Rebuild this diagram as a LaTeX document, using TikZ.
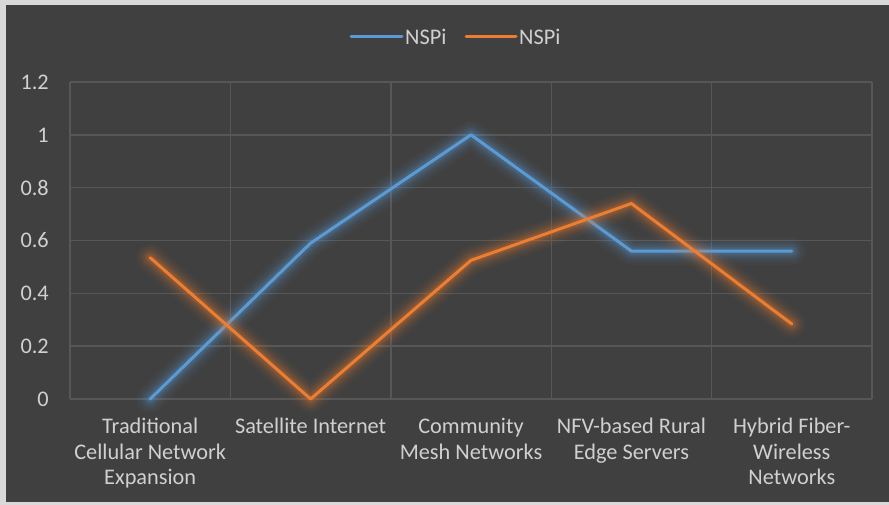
\documentclass[tikz,border=0pt]{standalone}
\usepackage{fontspec}
\setmainfont{Carlito}
\definecolor{frame}{HTML}{D9D9D9}
\definecolor{panel}{HTML}{404040}
\definecolor{grid}{HTML}{575757}
\definecolor{label}{HTML}{D0D0D0}
\definecolor{seriesA}{HTML}{5B9BD5}
\definecolor{seriesB}{HTML}{ED7D31}
\begin{document}
\begin{tikzpicture}[x=1pt,y=-1pt,
  gridline/.style={grid,line width=1.4pt},
  ticklabel/.style={text=label,font=\fontsize{22.3}{25}\selectfont,anchor=east,inner sep=0pt},
  catlabel/.style={text=label,font=\fontsize{22.3}{25.5}\selectfont,align=center,anchor=north,inner sep=0pt},
  legendtext/.style={text=label,font=\fontsize{22.3}{25}\selectfont,anchor=west,inner sep=0pt},
  series/.style={line width=3pt,line cap=round,line join=round},
  halo/.style={line cap=round,line join=round}]
% canvas
\useasboundingbox (0,0) rectangle (889,505);
\fill[frame] (0,0) rectangle (889,505);
\fill[panel] (6,5) rectangle (889,502);

% grid: 5 category slots of width 160.4 between x=70 and x=872, y from 0 (399) to 1.2 (82)
\foreach \i in {0,...,5} {
  \draw[gridline] ({70+160.4*\i},82) -- ({70+160.4*\i},399);
}
\foreach \k/\t in {0/0,1/0.2,2/0.4,3/0.6,4/0.8,5/1,6/1.2} {
  \draw[gridline] (70,{399-52.83*\k}) -- (872,{399-52.83*\k});
  \node[ticklabel] (tick\k) at (49,{399-52.83*\k}) {\t};
}

% data points
\def\yv#1{399-264.17*#1}
\foreach \c/\a/\b in {1/0/0.535, 2/0.59/0, 3/1/0.525, 4/0.56/0.74, 5/0.56/0.284} {
  \coordinate (a\c) at ({150.2+160.4*(\c-1)},{\yv{\a}});
  \coordinate (b\c) at ({150.2+160.4*(\c-1)},{\yv{\b}});
}

% blue series with soft glow
\foreach \w/\o in {28/0.04,23/0.05,18/0.07,14/0.09,10/0.11,7/0.14} {
  \draw[halo,seriesA,line width=\w pt,opacity=\o] (a1) -- (a2) -- (a3) -- (a4) -- (a5);
}
\draw[series,seriesA] (a1) -- (a2) -- (a3) -- (a4) -- (a5);

% orange series with soft glow
\foreach \w/\o in {28/0.04,23/0.05,18/0.07,14/0.09,10/0.11,7/0.14} {
  \draw[halo,seriesB,line width=\w pt,opacity=\o] (b1) -- (b2) -- (b3) -- (b4) -- (b5);
}
\draw[series,seriesB] (b1) -- (b2) -- (b3) -- (b4) -- (b5);

% category labels
\node[catlabel] (cat1) at (150.2,418) {Traditional\\Cellular Network\\Expansion};
\node[catlabel] (cat2) at (310.6,418) {Satellite Internet};
\node[catlabel] (cat3) at (471.0,418) {Community\\Mesh Networks};
\node[catlabel] (cat4) at (631.4,418) {NFV-based Rural\\Edge Servers};
\node[catlabel] (cat5) at (791.8,418) {Hybrid Fiber-\\Wireless\\Networks};

% legend
\coordinate (la0) at (351,37);
\coordinate (la1) at (402,37);
\draw[series,seriesA] (la0) -- (la1);
\node[legendtext] (legA) at (405,37) {NSPi};
\coordinate (lb0) at (466,37);
\coordinate (lb1) at (516,37);
\draw[series,seriesB] (lb0) -- (lb1);
\node[legendtext] (legB) at (519,37) {NSPi};
\end{tikzpicture}
\end{document}
